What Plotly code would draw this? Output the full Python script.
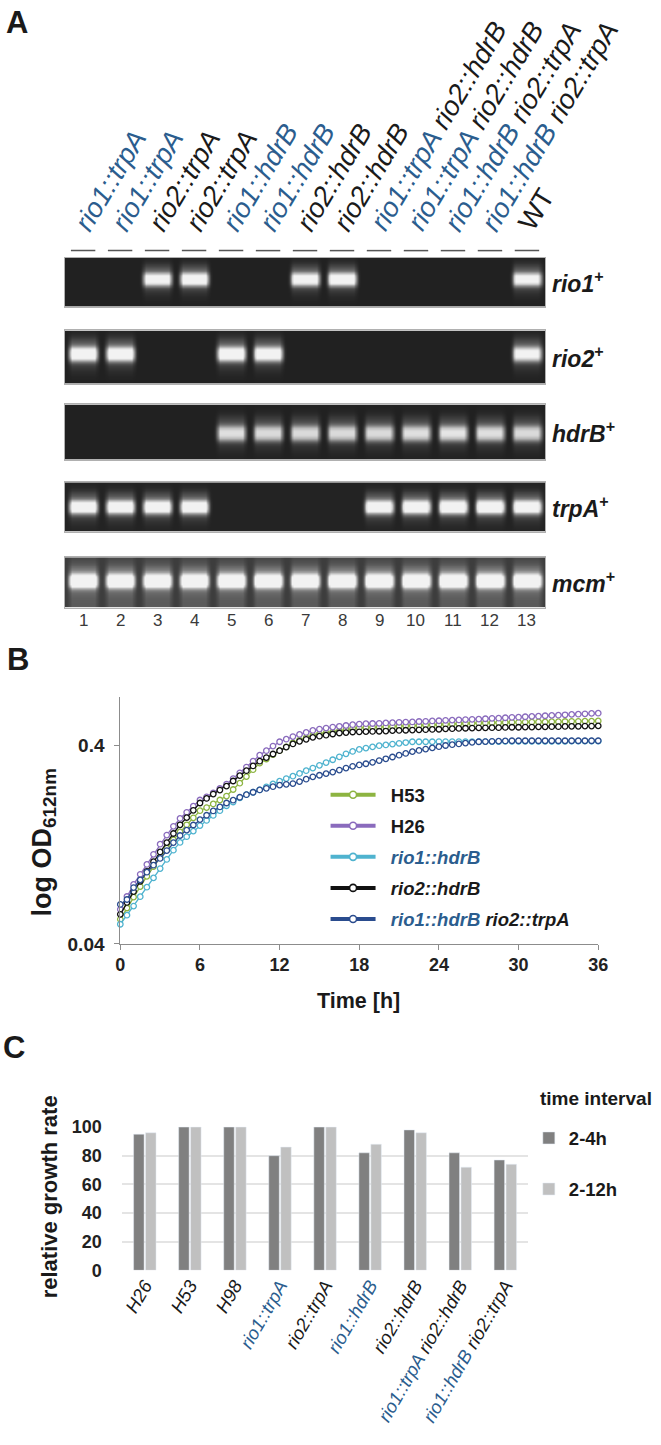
import numpy as np
import plotly.graph_objects as go

W, H = 661, 1445
FONT = "Liberation Sans, Arial, Helvetica, sans-serif"
BLUE = "#2b5d8e"
INK = "#1a1a1a"

# ---------------- panel A: PCR gel ----------------
lanes = list(range(1, 14))
lane_labels = ["rio1::trpA", "rio1::trpA", "rio2::trpA", "rio2::trpA",
               "rio1::hdrB", "rio1::hdrB", "rio2::hdrB", "rio2::hdrB",
               "rio1::trpA rio2::hdrB", "rio1::trpA rio2::hdrB",
               "rio1::hdrB rio2::trpA", "rio1::hdrB rio2::trpA", "WT"]
gel_genes = ["rio1", "rio2", "hdrB", "trpA", "mcm"]
# band brightness per lane (0 = no product)
band_rio1 = [0, 0, 0.88, 0.92, 0, 0, 0.88, 0.92, 0, 0, 0, 0, 0.85]
band_rio2 = [0.95, 0.95, 0, 0, 0.95, 0.92, 0, 0, 0, 0, 0, 0, 0.85]
band_hdrB = [0, 0, 0, 0, 0.74, 0.72, 0.72, 0.72, 0.72, 0.74, 0.76, 0.74, 0.72]
band_trpA = [0.95, 0.95, 0.95, 0.95, 0, 0, 0, 0, 0.95, 0.97, 1.0, 1.0, 0.97]
band_mcm = [1.0, 0.98, 0.98, 0.98, 1.0, 0.98, 0.98, 0.98, 1.0, 1.0, 1.0, 1.0, 1.0]
gel_bands = [band_rio1, band_rio2, band_hdrB, band_trpA, band_mcm]

# ---------------- panel B: growth curves ----------------
hours = np.arange(0, 36.5, 0.5)
log_od_h53 = [-1.274, -1.217, -1.162, -1.109, -1.057, -1.008, -0.959, -0.915, -0.873, -0.833,
              -0.797, -0.762, -0.726, -0.710, -0.692, -0.672, -0.652, -0.619, -0.587, -0.554,
              -0.519, -0.486, -0.465, -0.443, -0.423, -0.404, -0.384, -0.370, -0.358, -0.346,
              -0.339, -0.334, -0.329, -0.324, -0.316, -0.311, -0.308, -0.307, -0.305, -0.304,
              -0.303, -0.301, -0.300, -0.298, -0.297, -0.296, -0.294, -0.293, -0.291, -0.290,
              -0.289, -0.287, -0.286, -0.285, -0.283, -0.283, -0.282, -0.282, -0.281, -0.280,
              -0.280, -0.279, -0.279, -0.278, -0.278, -0.277, -0.277, -0.276, -0.275, -0.275,
              -0.274, -0.274, -0.273]
log_od_h26 = [-1.224, -1.159, -1.098, -1.047, -0.997, -0.946, -0.895, -0.849, -0.805, -0.765,
              -0.734, -0.703, -0.672, -0.656, -0.636, -0.614, -0.592, -0.564, -0.535, -0.506,
              -0.476, -0.446, -0.423, -0.400, -0.378, -0.365, -0.352, -0.341, -0.331, -0.321,
              -0.314, -0.309, -0.304, -0.300, -0.296, -0.292, -0.289, -0.287, -0.286, -0.285,
              -0.283, -0.282, -0.280, -0.279, -0.278, -0.276, -0.275, -0.273, -0.272, -0.270,
              -0.269, -0.268, -0.266, -0.265, -0.264, -0.262, -0.260, -0.259, -0.257, -0.255,
              -0.254, -0.252, -0.250, -0.249, -0.247, -0.245, -0.244, -0.242, -0.240, -0.239,
              -0.237, -0.235, -0.234]
log_od_rio1_hdrB = [-1.299, -1.253, -1.207, -1.160, -1.112, -1.065, -1.018, -0.972, -0.925, -0.886,
                    -0.857, -0.829, -0.801, -0.775, -0.750, -0.726, -0.701, -0.682, -0.661, -0.645,
                    -0.633, -0.621, -0.606, -0.591, -0.577, -0.564, -0.552, -0.538, -0.524, -0.511,
                    -0.497, -0.483, -0.469, -0.454, -0.439, -0.427, -0.417, -0.410, -0.404, -0.398,
                    -0.394, -0.390, -0.386, -0.382, -0.378, -0.378, -0.378, -0.378, -0.377, -0.377,
                    -0.377, -0.377, -0.377, -0.377, -0.377, -0.377, -0.377, -0.377, -0.376, -0.376,
                    -0.376, -0.376, -0.376, -0.376, -0.376, -0.376, -0.376, -0.376, -0.375, -0.375,
                    -0.375, -0.375, -0.375]
log_od_rio2_hdrB = [-1.249, -1.189, -1.134, -1.082, -1.032, -0.983, -0.934, -0.887, -0.841, -0.797,
                    -0.761, -0.724, -0.687, -0.664, -0.642, -0.622, -0.602, -0.576, -0.549, -0.524,
                    -0.500, -0.476, -0.458, -0.440, -0.423, -0.405, -0.389, -0.376, -0.366, -0.356,
                    -0.350, -0.345, -0.339, -0.334, -0.332, -0.329, -0.328, -0.327, -0.326, -0.325,
                    -0.324, -0.322, -0.321, -0.320, -0.319, -0.318, -0.317, -0.316, -0.315, -0.313,
                    -0.312, -0.311, -0.310, -0.309, -0.308, -0.308, -0.307, -0.307, -0.306, -0.305,
                    -0.305, -0.304, -0.304, -0.303, -0.303, -0.302, -0.302, -0.301, -0.300, -0.300,
                    -0.299, -0.299, -0.298]
log_od_double = [-1.199, -1.174, -1.114, -1.075, -1.036, -1.001, -0.967, -0.927, -0.887, -0.851,
                 -0.824, -0.798, -0.771, -0.749, -0.727, -0.707, -0.687, -0.673, -0.658, -0.645,
                 -0.633, -0.621, -0.613, -0.605, -0.597, -0.593, -0.589, -0.579, -0.567, -0.555,
                 -0.547, -0.539, -0.531, -0.521, -0.511, -0.502, -0.495, -0.489, -0.482, -0.473,
                 -0.464, -0.455, -0.446, -0.437, -0.428, -0.422, -0.415, -0.409, -0.403, -0.397,
                 -0.393, -0.389, -0.385, -0.381, -0.378, -0.377, -0.376, -0.375, -0.374, -0.373,
                 -0.373, -0.373, -0.373, -0.373, -0.373, -0.373, -0.373, -0.373, -0.373, -0.373,
                 -0.373, -0.373, -0.373]
curve_names = ["H53", "H26", "rio1::hdrB", "rio2::hdrB", "rio1::hdrB rio2::trpA"]
curve_data = [log_od_h53, log_od_h26, log_od_rio1_hdrB, log_od_rio2_hdrB, log_od_double]
curve_colors = ["#8db441", "#8a6bbd", "#4fb3cf", "#111111", "#2a4c8e"]

# ---------------- panel C: relative growth rate ----------------
strains = ["H26", "H53", "H98", "rio1::trpA", "rio2::trpA", "rio1::hdrB",
           "rio2::hdrB", "rio1::trpA rio2::hdrB", "rio1::hdrB rio2::trpA"]
rate_2_4h = [95, 100, 100, 80, 100, 82, 98, 82, 77]
rate_2_12h = [96, 100, 100, 86, 100, 88, 96, 72, 74]


def px(x):
    return x / W


def py(y):
    return 1 - y / H


def genotype_html(label, bold=False):
    if label == "WT":
        return "WT"
    parts = []
    for token in label.split(" "):
        col = BLUE if token.startswith("rio1") else INK
        parts.append(f"<span style='color:{col}'>{token}</span>")
    txt = "<i>" + " ".join(parts) + "</i>"
    return f"<b>{txt}</b>" if bold else txt


def note(x, y, text, size, angle=0, xanchor="center", yanchor="middle"):
    return dict(x=px(x), y=py(y), xref="paper", yref="paper", showarrow=False,
                xanchor=xanchor, yanchor=yanchor, textangle=angle, text=text,
                font=dict(size=size, color=INK))


fig = go.Figure()
annotations = []
shapes = []
layout_axes = {}

# gel panels, one subplot each
gel_px = [(252, 302), (326, 380), (401, 457), (480, 530), (556, 607)]
gel_centre = [0.56, 0.56, 0.48, 0.50, 0.53]
gel_bg = [0.08, 0.08, 0.08, 0.09, 0.21]
gel_glow = [0.0, 0.0, 0.0, 0.0, 0.09]

lane_x = np.linspace(0.5, 13.5, 13 * 20 + 1)
row_y = np.linspace(0, 1, 81)
nearest = np.clip(np.rint(lane_x), 1, 13).astype(int)
edge = np.clip((0.46 - np.abs(lane_x - nearest)) / 0.15, 0, 1)

for i, (band, (top, bot)) in enumerate(zip(gel_bands, gel_px)):
    n = i + 1
    across = np.array(band)[nearest - 1] * edge
    d = row_y - gel_centre[i]
    down = (np.exp(-np.abs(d / 0.14) ** 3)
            + 0.35 * np.exp(-(d / 0.26) ** 2)
            + 0.15 * np.exp(-((d - 0.2) / 0.12) ** 2))
    below = np.clip(-d / 0.5, 0, 1)
    z = gel_bg[i] + gel_glow[i] * np.outer(below + 0.5, edge) + 0.84 * np.outer(down, across)
    fig.add_trace(go.Heatmap(x=lane_x, y=row_y, z=np.clip(z, 0, 1), zmin=0, zmax=1,
                             colorscale=[[0, "#101010"], [0.5, "#7a7a7a"], [1, "#f2f2f2"]],
                             showscale=False, zsmooth="best", hoverinfo="skip",
                             xaxis=f"x{n}", yaxis=f"y{n}"))
    frame = dict(showline=True, mirror=True, linecolor="#b0b0b0", linewidth=1,
                 showgrid=False, zeroline=False, showticklabels=False, ticks="")
    layout_axes[f"xaxis{n}"] = dict(domain=[px(61), px(553)], range=[0.5, 13.5],
                                    anchor=f"y{n}", **frame)
    layout_axes[f"yaxis{n}"] = dict(domain=[py(bot), py(top)], range=[0, 1],
                                    anchor=f"x{n}", **frame)
    annotations.append(note(558, (top + bot) / 2, f"<b><i>{gel_genes[i]}</i><sup>+</sup></b>",
                            23, xanchor="left"))

for lane, label in zip(lanes, lane_labels):
    annotations.append(dict(x=lane, y=py(233), xref="x", yref="paper", xanchor="left",
                            yanchor="bottom", xshift=-18, textangle=-59, showarrow=False,
                            text=genotype_html(label), font=dict(size=27.5, color=INK)))
    annotations.append(dict(x=lane, y=py(620), xref="x", yref="paper", showarrow=False,
                            xanchor="center", yanchor="middle",
                            text=str(lane), font=dict(size=17, color="#3a3a3a")))
    shapes.append(dict(type="line", xref="x", yref="paper", x0=lane - 0.33, x1=lane + 0.33,
                       y0=py(245), y1=py(245), line=dict(color="#555555", width=1.5)))

# growth curves
for name, vals, col in zip(curve_names, curve_data, curve_colors):
    fig.add_trace(go.Scatter(x=hours, y=10 ** np.array(vals), mode="lines+markers",
                             line=dict(color=col, width=1.3),
                             marker=dict(size=5.5, color="white", line=dict(color=col, width=1.3)),
                             cliponaxis=False, showlegend=False, hoverinfo="skip",
                             xaxis="x6", yaxis="y6"))
for name, col in zip(curve_names, curve_colors):
    label = genotype_html(name, bold=True) if "rio" in name else f"<b>{name}</b>"
    fig.add_trace(go.Scatter(x=[None], y=[None], mode="lines+markers",
                             line=dict(color=col, width=4),
                             marker=dict(size=7, color="white", line=dict(color=col, width=1.6)),
                             name="&nbsp;&nbsp;" + label,
                             legend="legend", legendgroup=name, xaxis="x6", yaxis="y6"))

axis_grey = "#8c8c8c"
layout_axes["xaxis6"] = dict(domain=[px(118), px(607)], range=[0, 36], anchor="y6",
                             tickvals=list(range(0, 37, 6)), ticks="outside", ticklen=5,
                             tickcolor=axis_grey, showline=True, linecolor=axis_grey,
                             showgrid=False, zeroline=False,
                             tickfont=dict(size=18, weight="bold", color="#222222"))
layout_axes["yaxis6"] = dict(domain=[py(948), py(698)], type="log",
                             range=[np.log10(0.04), -0.154], anchor="x6",
                             tickvals=[0.04, 0.4], ticktext=["0.04", "0.4"], ticks="outside",
                             ticklen=5, tickcolor=axis_grey, showline=True, linecolor=axis_grey,
                             showgrid=False, zeroline=False, ticklabelstandoff=6,
                             tickfont=dict(size=19, weight="bold", color="#222222"))

# growth-rate bars
fig.add_trace(go.Bar(x=strains, y=rate_2_4h, name="<b>2-4h</b>", marker_color="#808080",
                     xaxis="x7", yaxis="y7", legend="legend2", legendgroup="a", hoverinfo="skip"))
fig.add_trace(go.Bar(x=strains, y=rate_2_12h, name="<b>2-12h</b>", marker_color="#c0c0c0",
                     xaxis="x7", yaxis="y7", legend="legend2", legendgroup="b", hoverinfo="skip"))
layout_axes["xaxis7"] = dict(domain=[px(120), px(535)], anchor="y7", type="category",
                             tickvals=strains, ticktext=[genotype_html(s) for s in strains],
                             tickangle=-60, ticks="", showline=False, showgrid=False,
                             tickfont=dict(size=18.5, color=INK))
layout_axes["yaxis7"] = dict(domain=[py(1279), py(1133)], range=[0, 100.5], anchor="x7",
                             tickvals=list(range(0, 101, 20)), showgrid=True,
                             gridcolor="#e4e4e4", gridwidth=1.5, zeroline=False,
                             showline=False, ticks="outside", ticklen=16, tickcolor="white",
                             tickfont=dict(size=18, weight="bold", color="#222222"))

# titles and panel letters
for letter, (lx, ly) in zip("ABC", [(12, 14), (13, 660), (9, 1053)]):
    annotations.append(note(lx, ly, f"<b>{letter}</b>", 31))
annotations.append(note(40, 845, "<b>log OD<sub>612nm</sub></b>", 27, angle=-90))
annotations.append(note(362, 1006, "<b>Time [h]</b>", 21.5))
annotations.append(note(45, 1204, "<b>relative growth rate</b>", 22, angle=-90))
annotations.append(note(545, 1105, "<b>time interval</b>", 19, xanchor="left"))

fig.update_layout(
    width=W, height=H, autosize=False,
    margin=dict(l=0, r=0, t=0, b=0),
    paper_bgcolor="white", plot_bgcolor="white",
    font=dict(family=FONT, color=INK),
    barmode="group", bargap=0.47, bargroupgap=0.12,
    legend=dict(x=px(328), y=py(778), xanchor="left", yanchor="top", itemwidth=45,
                bgcolor="rgba(0,0,0,0)", font=dict(size=18.5, color=INK), tracegroupgap=4),
    legend2=dict(x=px(536), y=py(1126), xanchor="left", yanchor="top",
                 bgcolor="rgba(0,0,0,0)", font=dict(size=18.5, color=INK), tracegroupgap=24),
    annotations=annotations, shapes=shapes,
    **layout_axes,
)

# the page body has a default 8px margin; drop it so the figure sits at the window origin
fig.write_html("out.html", config={"displayModeBar": False},
               post_script="document.body.style.margin='0';")
